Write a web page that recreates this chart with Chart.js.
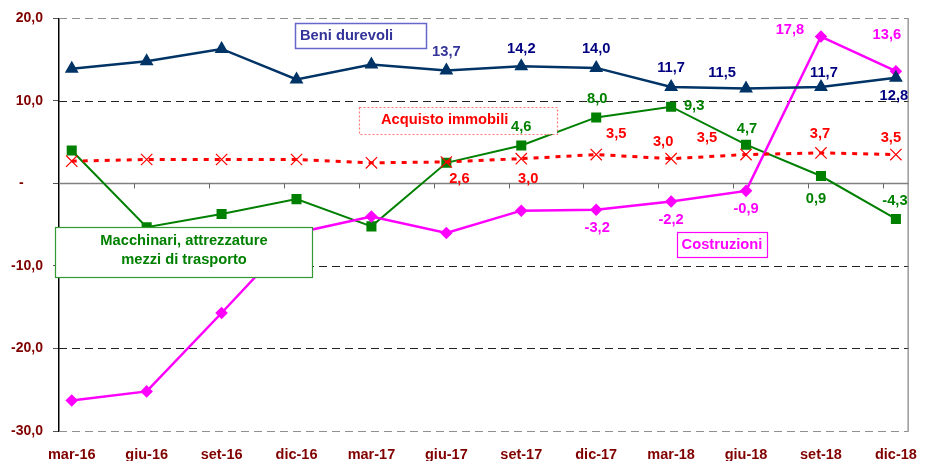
<!DOCTYPE html>
<html>
<head>
<meta charset="utf-8">
<script src="https://cdn.jsdelivr.net/npm/chart.js@4/dist/chart.umd.min.js"></script>
<style>
  html, body { margin: 0; padding: 0; background: #fff; }
  #wrap { width: 932px; height: 461px; }
</style>
</head>
<body>
<div id="wrap"><canvas id="chart"></canvas></div>
<script>
// quarters on the x axis
const quarters = ['mar-16', 'giu-16', 'set-16', 'dic-16', 'mar-17', 'giu-17',
                  'set-17', 'dic-17', 'mar-18', 'giu-18', 'set-18', 'dic-18'];

// series values
const beniDurevoli     = [13.9, 14.8, 16.3, 12.6, 14.4, 13.7, 14.2, 14.0, 11.7, 11.5, 11.7, 12.8];
const acquistoImmobili = [2.7, 2.9, 2.9, 2.9, 2.5, 2.6, 3.0, 3.5, 3.0, 3.5, 3.7, 3.5];
const macchinari       = [4.0, -5.3, -3.7, -1.9, -5.2, 2.5, 4.6, 8.0, 9.3, 4.7, 0.9, -4.3];
const costruzioni      = [-26.3, -25.2, -15.7, -6.0, -4.0, -6.0, -3.3, -3.2, -2.2, -0.9, 17.8, 13.6];

const yMin = -30, yMax = 20, yStep = 10;

// where the value labels sit relative to their point (dx, dy), null = no label
const beniLabelPos = [null, null, null, null, null, [0, -18], [0, -17], [0, -19], [0, -19], [-24, -16], [3, -14], [-2, 18]];
const acquistoLabelPos = [null, null, null, null, null, [13, 17], [7, 20], [20, -21], [-8, -17], [-39, -17], [-1, -19], [-5, -17]];
const macchinariLabelPos = [null, null, null, null, null, null, [0, -19], [1, -18], [23, -1], [1, -16], [-5, 23], [-1, -18]];
const costruzioniLabelPos = [null, null, null, null, null, null, null, [1, 18], [0, 18], [0, 18], [-31, -7], [-9, -36]];

const FONT = '"Liberation Sans", Arial, sans-serif';
Chart.defaults.font.family = FONT;

function fmt(v) {
    return v.toFixed(1).replace('.', ',');
}

function toPoints(arr) {
    return arr.map((v, i) => ({ x: i, y: v }));
}

// dashed grid, zero line, right border, category ticks, boxes and value labels
const gridPlugin = {
    id: 'gridPlugin',
    beforeDatasetsDraw(chart) {
        const ctx = chart.ctx;
        const area = chart.chartArea;
        const ys = chart.scales.y;
        const xs = chart.scales.x;
        ctx.save();
        for (let v = yMin; v <= yMax; v += yStep) {
            const py = Math.round(ys.getPixelForValue(v)) + 0.5;
            ctx.beginPath();
            if (v === 0) {
                ctx.setLineDash([]);
                ctx.strokeStyle = '#808080';
                ctx.lineWidth = 1.5;
            } else if (v === yMin || v === yMax) {
                ctx.setLineDash([8, 5]);
                ctx.strokeStyle = '#909090';
                ctx.lineWidth = 1.2;
            } else {
                ctx.setLineDash([8, 5]);
                ctx.strokeStyle = '#222';
                ctx.lineWidth = 1;
            }
            ctx.moveTo(area.left, py);
            ctx.lineTo(area.right, py);
            ctx.stroke();
        }
        ctx.setLineDash([]);
        ctx.strokeStyle = '#808080';
        ctx.lineWidth = 1.2;
        ctx.beginPath();
        ctx.moveTo(area.right - 0.5, area.top);
        ctx.lineTo(area.right - 0.5, area.bottom);
        ctx.stroke();
        // tick marks on the zero line, between categories
        const zy = ys.getPixelForValue(0);
        ctx.strokeStyle = '#666';
        ctx.lineWidth = 1;
        for (let k = 1; k < quarters.length; k++) {
            const px = Math.round(xs.getPixelForValue(k - 0.17)) + 0.5;
            ctx.beginPath();
            ctx.moveTo(px, zy);
            ctx.lineTo(px, zy + 5);
            ctx.stroke();
        }
        ctx.restore();
    },
    afterDatasetsDraw(chart) {
        const ctx = chart.ctx;
        ctx.save();

        // series name boxes
        function box(x, y, w, h, stroke, dash, lw) {
            ctx.fillStyle = '#fff';
            ctx.fillRect(x, y, w, h);
            ctx.setLineDash(dash);
            ctx.strokeStyle = stroke;
            ctx.lineWidth = lw;
            ctx.strokeRect(x + 0.5, y + 0.5, w, h);
            ctx.setLineDash([]);
        }
        ctx.font = 'bold 14.7px ' + FONT;
        ctx.textBaseline = 'middle';

        box(295, 23, 131, 25, '#6666CC', [], 1.5);
        ctx.fillStyle = '#333399';
        ctx.textAlign = 'left';
        ctx.fillText('Beni durevoli', 300, 36);

        box(359, 107, 198, 27, '#FF7777', [2, 2], 1.2);
        ctx.fillStyle = '#FF0000';
        ctx.fillText('Acquisto immobili', 381, 120);

        box(55, 227, 257, 50, '#339933', [], 1.2);
        ctx.fillStyle = '#008000';
        ctx.textAlign = 'center';
        ctx.fillText('Macchinari, attrezzature', 184, 241);
        ctx.fillText('mezzi di trasporto', 184, 260);

        box(677, 232, 90, 25, '#FF00FF', [], 1.2);
        ctx.fillStyle = '#FF00FF';
        ctx.fillText('Costruzioni', 722, 245);

        // value labels
        const specs = [
            { ds: 0, pos: acquistoLabelPos, color: '#FF0000' },
            { ds: 1, pos: beniLabelPos, color: '#000080' },
            { ds: 2, pos: costruzioniLabelPos, color: '#FF00FF' },
            { ds: 3, pos: macchinariLabelPos, color: '#008000' }
        ];
        ctx.font = 'bold 14.7px ' + FONT;
        ctx.textAlign = 'center';
        specs.forEach(s => {
            const meta = chart.getDatasetMeta(s.ds);
            const values = chart.data.datasets[s.ds].data;
            s.pos.forEach((p, i) => {
                if (!p) return;
                const pt = meta.data[i];
                ctx.fillStyle = (s.ds === 1 && i === 5) ? '#333399' : s.color;
                ctx.fillText(fmt(values[i].y), pt.x + p[0], pt.y + p[1]);
            });
        });
        ctx.restore();
    }
};

const ctx = document.getElementById('chart').getContext('2d');
new Chart(ctx, {
    type: 'line',
    data: {
        datasets: [
            {
                label: 'Acquisto immobili',
                data: toPoints(acquistoImmobili),
                borderColor: '#FF0000',
                borderWidth: 3,
                borderDash: [5, 6],
                pointStyle: 'crossRot',
                pointRadius: 8,
                pointBorderWidth: 1.2,
                pointBorderColor: '#FF0000',
                pointBackgroundColor: '#FF0000'
            },
            {
                label: 'Beni durevoli',
                data: toPoints(beniDurevoli),
                borderColor: '#003366',
                borderWidth: 2.5,
                pointStyle: 'triangle',
                pointRadius: 5.5,
                pointBorderColor: '#003366',
                pointBackgroundColor: '#003366'
            },
            {
                label: 'Costruzioni',
                data: toPoints(costruzioni),
                borderColor: '#FF00FF',
                borderWidth: 2.5,
                pointStyle: 'rectRot',
                pointRadius: 4.5,
                pointBorderColor: '#FF00FF',
                pointBackgroundColor: '#FF00FF'
            },
            {
                label: 'Macchinari, attrezzature mezzi di trasporto',
                data: toPoints(macchinari),
                borderColor: '#008000',
                borderWidth: 2,
                pointStyle: 'rect',
                pointRadius: 5.7,
                pointBorderColor: '#008000',
                pointBackgroundColor: '#008000'
            }
        ]
    },
    options: {
        responsive: true,
        maintainAspectRatio: false,
        animation: false,
        layout: { padding: { top: 17, right: 10, left: 0, bottom: 0 } },
        elements: { line: { tension: 0, fill: false } },
        plugins: {
            legend: { display: false },
            tooltip: { enabled: false }
        },
        scales: {
            x: {
                type: 'linear',
                min: -0.17,
                max: 11.17,
                afterBuildTicks: scale => {
                    scale.ticks = quarters.map((q, i) => ({ value: i }));
                },
                afterFit: scale => { scale.height = 30; },
                grid: { display: false, drawTicks: false },
                border: { display: false },
                ticks: {
                    autoSkip: false,
                    maxRotation: 0,
                    padding: 15,
                    color: '#800000',
                    font: { size: 14.5, weight: 'bold' },
                    callback: v => quarters[v]
                }
            },
            y: {
                min: yMin,
                max: yMax,
                afterFit: scale => { scale.width = 59; },
                grid: { drawOnChartArea: false, tickLength: 6, tickColor: '#555' },
                border: { display: true, color: '#000', width: 1.5 },
                ticks: {
                    stepSize: yStep,
                    padding: 10,
                    color: '#800000',
                    font: { size: 14, weight: 'bold' },
                    callback: v => v === 0 ? '-     ' : fmt(v)
                }
            }
        }
    },
    plugins: [gridPlugin]
});
</script>
</body>
</html>
